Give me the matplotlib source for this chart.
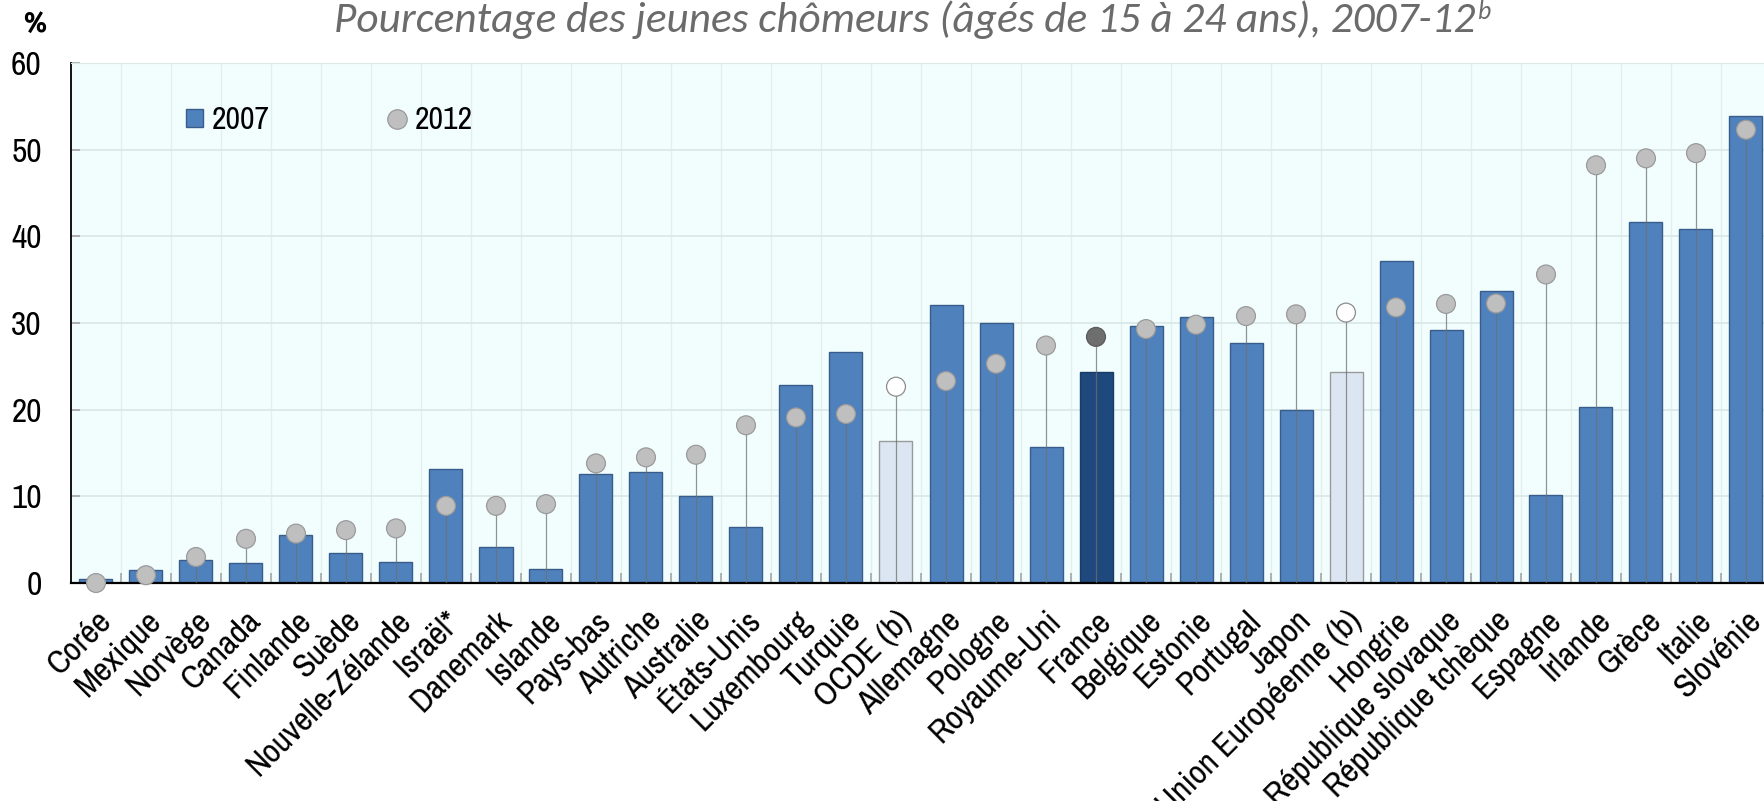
import numpy as np
import matplotlib
matplotlib.use('Agg')
import matplotlib.pyplot as plt
from matplotlib.patches import Patch
from matplotlib.lines import Line2D

pays = ['Corée', 'Mexique', 'Norvège', 'Canada', 'Finlande', 'Suède',
        'Nouvelle-Zélande', 'Israël*', 'Danemark', 'Islande', 'Pays-bas',
        'Autriche', 'Australie', 'États-Unis', 'Luxembourg', 'Turquie',
        'OCDE (b)', 'Allemagne', 'Pologne', 'Royaume-Uni', 'France',
        'Belgique', 'Estonie', 'Portugal', 'Japon', 'Union Européenne (b)',
        'Hongrie', 'République slovaque', 'République tchèque', 'Espagne',
        'Irlande', 'Grèce', 'Italie', 'Slovénie']
v2007 = [0.5, 1.5, 2.7, 2.3, 5.5, 3.5, 2.4, 13.2, 4.2, 1.6, 12.6,
         12.85, 10.0, 6.5, 22.9, 26.6, 16.4, 32.1, 30.0, 15.7, 24.3,
         29.7, 30.65, 27.75, 20.0, 24.4, 37.1, 29.25, 33.7, 10.1,
         20.3, 41.6, 40.8, 53.9]
v2012 = [0.0, 0.9, 3.0, 5.1, 5.7, 6.1, 6.3, 8.9, 8.9, 9.1, 13.8,
         14.5, 14.8, 18.2, 19.1, 19.5, 22.65, 23.3, 25.3, 27.4, 28.4,
         29.3, 29.8, 30.8, 31.0, 31.2, 31.8, 32.2, 32.25, 35.6,
         48.2, 49.0, 49.6, 52.3]

bleu = '#4f81bd'
bord = '#385d8a'
gris = '#bfbfbf'

bar_fc, bar_ec, dot_fc, dot_ec = [], [], [], []
for p in pays:
    if p.endswith('(b)'):
        bar_fc.append('#dce6f2'); bar_ec.append('#9a9a9a')
        dot_fc.append('white'); dot_ec.append('#8c8c8c')
    elif p == 'France':
        bar_fc.append('#1f497d'); bar_ec.append('#173a66')
        dot_fc.append('#6e6e6e'); dot_ec.append('#5a5a5a')
    else:
        bar_fc.append(bleu); bar_ec.append(bord)
        dot_fc.append(gris); dot_ec.append('#9a9a9a')

plt.rcParams['font.family'] = ['Liberation Sans Narrow', 'Archivo Narrow', 'Liberation Sans', 'DejaVu Sans']

W, H = 1765, 801
fig = plt.figure(figsize=(W / 100, H / 100), dpi=100)
ax = fig.add_axes([71 / W, 218 / H, 1700 / W, 520 / H])
ax.set_facecolor('#f2fefe')

x = np.arange(len(pays))
ax.bar(x, v2007, width=0.66, color=bar_fc, edgecolor=bar_ec, linewidth=1.0, zorder=2)
ax.vlines(x, 0, v2012, color='#6f6f6f', linewidth=0.9, alpha=0.75, zorder=3)
ax.scatter(x, v2012, s=185, c=dot_fc, edgecolors=dot_ec, linewidths=0.9, zorder=4, clip_on=False)

ax.set_xlim(-0.5, len(pays) - 0.5)
ax.set_ylim(0, 60)
ax.set_yticks(np.arange(0, 61, 10))
ax.set_xticks(x)
ax.set_xticklabels(pays, rotation=45, ha='right', va='top', rotation_mode='anchor', fontsize=24.5)
ax.set_xticks(np.arange(0.5, len(pays) - 0.5, 1), minor=True)

ax.tick_params(axis='x', which='major', length=0, pad=16)
ax.tick_params(axis='x', which='minor', direction='in', length=7, width=1.2, color='#a6a6a6')
ax.tick_params(axis='y', direction='in', length=6.5, width=1.2, color='#a6a6a6', pad=21, labelsize=24)

ax.set_axisbelow(True)
ax.grid(axis='y', color='#dbe8e8', linewidth=1.3)
ax.grid(axis='x', which='minor', color='#e3eeee', linewidth=1.0)

ax.spines['right'].set_visible(False)
ax.spines['top'].set_color('#dbe8e8')
ax.spines['left'].set_linewidth(1.3)
ax.spines['bottom'].set_linewidth(1.6)

handles = [Patch(facecolor=bleu, edgecolor=bord, linewidth=1.0),
           Line2D([], [], ls='', marker='o', markersize=14, markerfacecolor=gris,
                  markeredgecolor='#9a9a9a', markeredgewidth=0.9)]
ax.legend(handles, ['2007', '2012'], ncol=2, loc='center left',
          bbox_to_anchor=(0.0676, 0.89), frameon=False, fontsize=23,
          handlelength=0.52, handleheight=0.52, handletextpad=0.3,
          columnspacing=3.7, borderpad=0, borderaxespad=0)

# titre en Carlito italique, taille ajustee a la largeur du modele (~1140 px)
titre = 'Pourcentage des jeunes chômeurs (âgés de 15 à 24 ans), 2007-12'
t = fig.text(905 / W, 1 - 32 / H, titre, ha='center', va='baseline',
             family='Carlito', style='italic', fontsize=20, color='#6b6b6b')
fig.canvas.draw()
t.set_fontsize(20 * 1140 / t.get_window_extent().width)
fig.canvas.draw()
bb = t.get_window_extent()
fig.text(bb.x1 + 2, bb.y0 + bb.height * 0.42, 'b', transform=None,
         family='Carlito', style='italic', fontsize=t.get_fontsize() * 0.6,
         color='#6b6b6b', va='bottom')

fig.text(35 / W, 1 - 24 / H, '%', ha='center', va='center', fontsize=21,
         family=['Fira Sans Condensed', 'Liberation Sans'], weight='bold')

plt.savefig('out.png', dpi=100)
